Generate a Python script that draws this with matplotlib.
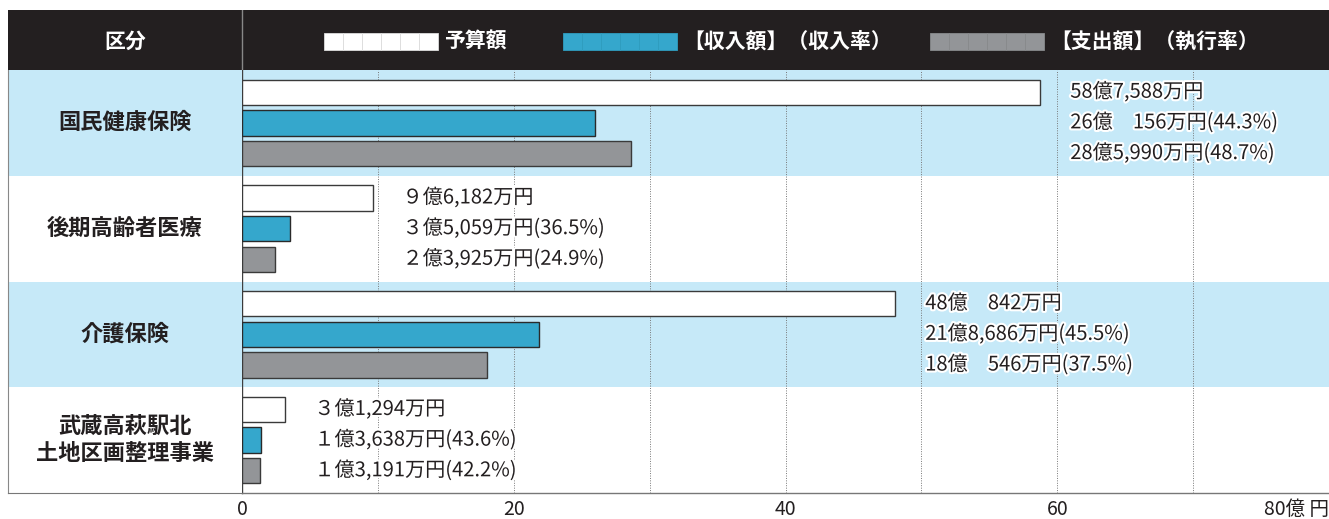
import matplotlib.pyplot as plt
import matplotlib.patheffects as pe
from matplotlib.patches import Rectangle

plt.rcParams['font.family'] = ['Noto Sans CJK JP', 'DejaVu Sans']

categories = ['国民健康保険', '後期高齢者医療', '介護保険', '武蔵高萩駅北\n土地区画整理事業']
budget = [58.7588, 9.6182, 48.0842, 3.1294]
income = [26.0156, 3.5059, 21.8686, 1.3638]
expend = [28.5990, 2.3925, 18.0546, 1.3191]
budget_labels = ['58億7,588万円', '９億6,182万円', '48億　842万円', '３億1,294万円']
income_labels = ['26億　156万円(44.3%)', '３億5,059万円(36.5%)', '21億8,686万円(45.5%)', '１億3,638万円(43.6%)']
expend_labels = ['28億5,990万円(48.7%)', '２億3,925万円(24.9%)', '18億　546万円(37.5%)', '１億3,191万円(42.2%)']
xticks = [0, 20, 40, 60, 80]
xtick_labels = ['0', '20', '40', '60', '80億 円']
legend_names = ['予算額', '【収入額】（収入率）', '【支出額】（執行率）']

DARK = '#231f20'
BLUE = '#35a7cc'
GRAY = '#939598'
BAND = '#c6e9f8'
W, H = 1329, 519


def box(l, t, r, b):
    return [l / W, 1 - b / H, (r - l) / W, (b - t) / H]


fig = plt.figure(figsize=(W / 100, H / 100), dpi=100)
ax = fig.add_axes(box(242, 70, 1329, 493))
axl = fig.add_axes(box(8, 70, 242, 493))
axh = fig.add_axes(box(8, 10, 1329, 70))

n = len(categories)
for a in (ax, axl):
    a.set_ylim(n - 0.5, -0.5)
    for i in range(n):
        if i % 2 == 0:
            a.axhspan(i - 0.5, i + 0.5, color=BAND, lw=0, zorder=0)

# bars
off = 0.29
bh = 0.24
ys = list(range(n))
ax.barh([y - off for y in ys], budget, height=bh, color='white', edgecolor='#3a3a3a', lw=1, zorder=3)
ax.barh(ys, income, height=bh, color=BLUE, edgecolor='#2a2a2a', lw=1, zorder=3)
ax.barh([y + off for y in ys], expend, height=bh, color=GRAY, edgecolor='#3a3a3a', lw=1, zorder=3)

for i in range(n):
    tx = budget[i] + 2.2
    for dy, lab in zip((-off, 0, off), (budget_labels[i], income_labels[i], expend_labels[i])):
        ax.text(tx, i + dy, lab, va='center', ha='left', fontsize=14.5, color=DARK, zorder=5,
                path_effects=[pe.withStroke(linewidth=3, foreground='white')])

ax.set_xlim(0, 80)
for g in range(10, 80, 10):
    ax.axvline(g, color='#777777', lw=0.7, ls=(0, (1, 1.5)), zorder=1)
ax.set_xticks(xticks)
ax.set_xticklabels(xtick_labels, fontsize=14, color=DARK)
ax.get_xticklabels()[-1].set_horizontalalignment('right')
ax.tick_params(axis='x', length=0, pad=4)
ax.set_yticks([])
for s in ('top', 'right'):
    ax.spines[s].set_visible(False)
ax.spines['left'].set_color('#404040')
ax.spines['left'].set_linewidth(1)
ax.spines['bottom'].set_color('#777777')
ax.spines['bottom'].set_linewidth(1)

# left label column
axl.set_xlim(0, 1)
axl.set_xticks([])
axl.set_yticks([])
for s in ('top', 'right'):
    axl.spines[s].set_visible(False)
axl.spines['left'].set_color('#888888')
axl.spines['bottom'].set_color('#777777')
for i, c in enumerate(categories):
    axl.text(0.5, i, c, ha='center', va='center', fontsize=16, fontweight='bold', color=DARK,
             linespacing=1.25)

# header
axh.set_facecolor(DARK)
axh.set_xlim(8, 1329)
axh.set_ylim(70, 10)
axh.set_xticks([])
axh.set_yticks([])
for s in axh.spines.values():
    s.set_visible(False)
axh.axvline(242, color='#888888', lw=1)
axh.text(125, 41, '区分', color='white', fontsize=15, fontweight='bold', ha='center', va='center')

leg_x = [324, 563, 930]
leg_fill = ['white', BLUE, GRAY]
leg_div = ['#dddddd', '#2f9dc0', '#888a8c']
for x0, fc, dc, name in zip(leg_x, leg_fill, leg_div, legend_names):
    seg = 114 / 6
    for k in range(6):
        axh.add_patch(Rectangle((x0 + k * seg, 33), seg, 17, facecolor=fc, edgecolor=dc, lw=0.6))
    axh.text(x0 + 120, 41, name, color='white', fontsize=15, fontweight='bold', ha='left', va='center')

fig.savefig('out.png', dpi=100)
